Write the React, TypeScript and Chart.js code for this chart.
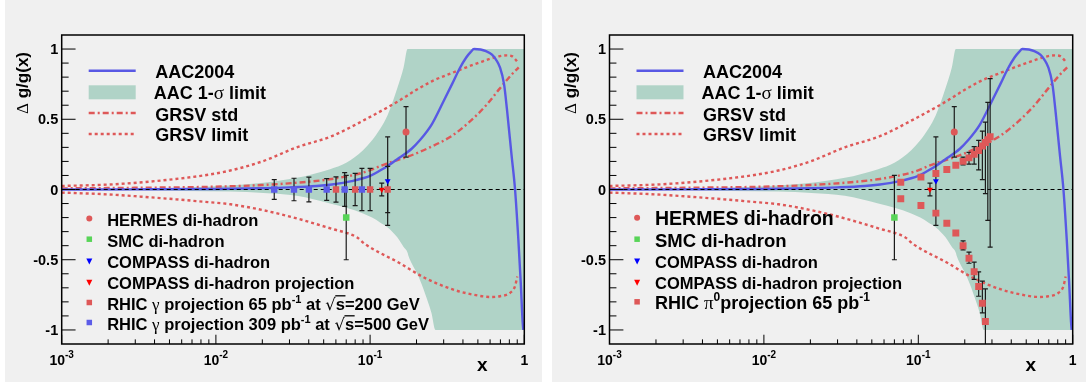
import { useEffect, useRef } from "react";
import { Chart, registerables } from "chart.js";

Chart.register(...registerables);

// ---- axis ranges and tick labels ----
const X_MIN = 0.001;
const X_MAX = 1;
const Y_MIN = -1.1;
const Y_MAX = 1.1;
const xDecades = [0.001, 0.01, 0.1, 1];
const xDecadeExp = ["-3", "-2", "-1", ""];
const xDecadeBase = ["10", "10", "10", "1"];
const yMajorTicks = [-1, -0.5, 0, 0.5, 1];
const yMajorLabels = ["-1", "-0.5", "0", "0.5", "1"];

// ---- AAC2004 central curve ----
const aacX = [0.001, 0.003, 0.01, 0.02, 0.03, 0.045, 0.0565, 0.076, 0.1, 0.116, 0.13, 0.15, 0.186, 0.21, 0.25, 0.3, 0.34, 0.38, 0.42, 0.45, 0.472, 0.52, 0.564, 0.617, 0.655, 0.695, 0.739, 0.772, 0.828, 0.871, 0.915, 0.948, 0.975, 0.985];
const aacY = [0.0, 0.001, 0.004, 0.009, 0.015, 0.025, 0.036, 0.06, 0.097, 0.135, 0.168, 0.215, 0.29, 0.35, 0.46, 0.63, 0.75, 0.86, 0.94, 0.98, 1.0, 0.997, 0.985, 0.96, 0.925, 0.87, 0.75, 0.57, 0.237, 0.0, -0.356, -0.66, -0.94, -1.0];

// ---- AAC 1-sigma band ----
const bandX = [0.001, 0.003, 0.006, 0.0124, 0.0204, 0.0334, 0.055, 0.07, 0.09, 0.103, 0.116, 0.13, 0.15, 0.165, 0.175, 0.177, 0.206, 0.227, 0.25, 0.265, 1.0];
const bandHi = [0.003, 0.006, 0.012, 0.028, 0.048, 0.083, 0.145, 0.19, 0.28, 0.35, 0.43, 0.53, 0.72, 0.87, 1.0, 1.0, 1.0, 1.0, 1.0, 1.0, 1.0];
const bandLo = [-0.003, -0.006, -0.01, -0.015, -0.025, -0.045, -0.1, -0.13, -0.17, -0.2, -0.235, -0.27, -0.34, -0.41, -0.45, -0.47, -0.62, -0.74, -0.88, -1.0, -1.0];

// ---- GRSV curves ----
const grsvStdX = [0.001, 0.003, 0.01, 0.02, 0.035, 0.0565, 0.093, 0.128, 0.177, 0.244, 0.337, 0.45, 0.566, 0.695, 0.815, 0.92];
const grsvStdY = [0.008, 0.012, 0.02, 0.032, 0.05, 0.075, 0.125, 0.185, 0.235, 0.3, 0.38, 0.49, 0.6, 0.72, 0.81, 0.87];
const grsvHiX = [0.001, 0.002, 0.0032, 0.0055, 0.0089, 0.0124, 0.02, 0.0334, 0.0565, 0.09, 0.153, 0.2, 0.251, 0.34, 0.5, 0.695, 0.77, 0.83, 0.87, 0.9];
const grsvHiY = [0.025, 0.035, 0.05, 0.075, 0.105, 0.135, 0.2, 0.3, 0.38, 0.49, 0.63, 0.71, 0.77, 0.83, 0.9, 0.95, 0.955, 0.95, 0.93, 0.91];
const grsvLoX = [0.001, 0.002, 0.0032, 0.0055, 0.0089, 0.0124, 0.025, 0.0565, 0.082, 0.093, 0.153, 0.227, 0.34, 0.5, 0.6, 0.695, 0.81, 0.87, 0.9];
const grsvLoY = [-0.022, -0.035, -0.05, -0.07, -0.09, -0.105, -0.17, -0.28, -0.34, -0.39, -0.52, -0.63, -0.71, -0.755, -0.765, -0.76, -0.735, -0.69, -0.62];

// ---- measurements ----
const hermesX = [0.171];
const hermesY = [0.41];
const hermesErr = [0.18];
const smcX = [0.07];
const smcY = [-0.2];
const smcErr = [0.3];
const compassX = [0.13];
const compassY = [0.06];
const compassErr = [0.315];
const compassProjX = [0.119];
const compassProjY = [0.0];
const compassProjErr = [0.045];

// RHIC direct photon projections
const rhic200X = [0.0601, 0.08, 0.1, 0.13];
const rhic200Y = [0, 0, 0, 0];
const rhic200Err = [0.09, 0.115, 0.15, 0.165];
const rhic500X = [0.0239, 0.0321, 0.0401, 0.0523, 0.0684, 0.0885];
const rhic500Y = [0, 0, 0, 0, 0, 0];
const rhic500Err = [0.07, 0.08, 0.088, 0.078, 0.12, 0.15];

// RHIC pi0 projection, two Delta-g scenarios
const pi0X = [0.077, 0.104, 0.13, 0.153, 0.175, 0.195, 0.213, 0.23, 0.246, 0.26, 0.272, 0.282, 0.292];
const pi0Pos = [0.052, 0.088, 0.114, 0.142, 0.173, 0.2, 0.225, 0.25, 0.278, 0.31, 0.335, 0.355, 0.375];
const pi0Neg = [-0.066, -0.114, -0.168, -0.24, -0.31, -0.4, -0.49, -0.586, -0.69, -0.81, -0.94, null, null];
const pi0PosErrLo = [null, null, null, null, null, 0.175, 0.18, 0.18, 0.14, 0.07, -0.03, -0.22, -0.41];
const pi0PosErrHi = [null, null, null, null, null, 0.23, 0.265, 0.305, 0.35, 0.415, 0.48, 0.62, 0.79];
const pi0NegErrLo = [null, null, null, null, null, -0.43, -0.525, -0.64, -0.76, -0.878, -1.2, null, null];
const pi0NegErrHi = [null, null, null, null, null, -0.366, -0.446, -0.517, -0.586, -0.653, -0.707, null, null];

// ---- styling ----
const BG = "rgb(240,240,240)";
const TEAL = "rgb(176,211,199)";
const RED = "rgb(222,88,88)";
const BLUE_LINE = "rgb(88,88,228)";
const BLUE_SQ = "rgb(92,92,232)";
const GREEN = "rgb(88,212,88)";
const PURE_BLUE = "rgb(0,0,255)";
const PURE_RED = "rgb(255,0,0)";
const SANS = '"Liberation Sans", Arial, Helvetica, sans-serif';
const GREEK = '"Liberation Serif", "DejaVu Serif", serif';
const DASH_DOT = [6, 3, 2, 3];
const DOTTED = [3, 3];

type Part = { t: string; size: number; bold?: boolean; greek?: boolean; rise?: number; bar?: boolean; sym?: boolean };

function fontOf(p: Part) {
  if (p.greek) return `${p.size}px ${GREEK}`;
  if (p.sym) return `${p.size}px "DejaVu Sans", ${SANS}`;
  return `${p.bold === false ? "" : "bold "}${p.size}px ${SANS}`;
}

function partsWidth(ctx: CanvasRenderingContext2D, parts: Part[]) {
  let w = 0;
  for (const p of parts) {
    ctx.font = fontOf(p);
    w += ctx.measureText(p.t).width;
  }
  return w;
}

function drawParts(ctx: CanvasRenderingContext2D, x: number, y: number, parts: Part[]) {
  let cx = x;
  for (const p of parts) {
    ctx.font = fontOf(p);
    const w = ctx.measureText(p.t).width;
    ctx.fillText(p.t, cx, y - (p.rise || 0));
    if (p.bar) {
      ctx.save();
      ctx.lineWidth = 1.3;
      ctx.strokeStyle = "#000";
      ctx.beginPath();
      const by = y - p.size * 0.86;
      ctx.moveTo(cx - 0.5, by);
      ctx.lineTo(cx + w + 0.5, by);
      ctx.stroke();
      ctx.restore();
    }
    cx += w;
  }
  return cx;
}

type MarkerKind = "rect" | "circle" | "triDown";

function drawMarker(ctx: CanvasRenderingContext2D, kind: MarkerKind, x: number, y: number, s: number, color: string) {
  ctx.fillStyle = color;
  ctx.beginPath();
  if (kind === "rect") {
    ctx.rect(x - s / 2, y - s / 2, s, s);
  } else if (kind === "circle") {
    ctx.arc(x, y, s / 2, 0, Math.PI * 2);
  } else {
    ctx.moveTo(x - s / 2, y - s / 3);
    ctx.lineTo(x + s / 2, y - s / 3);
    ctx.lineTo(x, y + (s * 2) / 3);
    ctx.closePath();
  }
  ctx.fill();
}

type LegendRow = { kind: MarkerKind; color: string; y: number; parts: Part[] };
type ErrBar = { x: number; lo: number; hi: number };

const B = (t: string, size: number): Part => ({ t, size, bold: true });

function symErrors(xs: number[], ys: number[], es: number[]): ErrBar[] {
  return xs.map((x, i) => ({ x, lo: ys[i] - es[i], hi: ys[i] + es[i] }));
}

function intervalErrors(xs: number[], lo: (number | null)[], hi: (number | null)[]): ErrBar[] {
  const out: ErrBar[] = [];
  xs.forEach((x, i) => {
    const a = lo[i];
    const b = hi[i];
    if (a !== null && b !== null) out.push({ x, lo: a, hi: b });
  });
  return out;
}

function pts(xs: number[], ys: (number | null)[]) {
  const out: { x: number; y: number }[] = [];
  xs.forEach((x, i) => {
    const y = ys[i];
    if (y !== null) out.push({ x, y });
  });
  return out;
}

function lineSet(label: string, xs: number[], ys: number[], extra: any) {
  return {
    type: "line" as const,
    label,
    data: pts(xs, ys),
    pointRadius: 0,
    borderWidth: 2.4,
    fill: false,
    tension: 0,
    cubicInterpolationMode: "monotone" as const,
    ...extra,
  };
}

function markerSet(label: string, xs: number[], ys: (number | null)[], style: string, radius: number, color: string, order: number, rotation = 0) {
  return {
    type: "scatter" as const,
    label,
    data: pts(xs, ys),
    pointStyle: style,
    pointRadius: radius,
    pointRotation: rotation,
    pointBackgroundColor: color,
    pointBorderColor: color,
    pointBorderWidth: 0,
    showLine: false,
    order,
  };
}

const commonMarkers = () => [
  markerSet("SMC di-hadron", smcX, smcY, "rect", 4.6, GREEN, 4),
  markerSet("HERMES di-hadron", hermesX, hermesY, "circle", 3.5, RED, 3),
  markerSet("COMPASS di-hadron projection", compassProjX, compassProjY, "triangle", 3.4, PURE_RED, 2, 180),
  markerSet("COMPASS di-hadron", compassX, compassY, "triangle", 3.4, PURE_BLUE, 1, 180),
];

const commonBars = (): ErrBar[] => [
  ...symErrors(smcX, smcY, smcErr),
  ...symErrors(hermesX, hermesY, hermesErr),
  ...symErrors(compassProjX, compassProjY, compassProjErr),
  ...symErrors(compassX, compassY, compassErr),
];

type Panel = {
  padLeft: number;
  padRight: number;
  markers: any[];
  bars: ErrBar[];
  legend: LegendRow[];
};

const LEFT_PANEL: Panel = {
  padLeft: 56.7,
  padRight: 17.7,
  markers: [
    markerSet("RHIC 500", rhic500X, rhic500Y, "rect", 4.5, BLUE_SQ, 6),
    markerSet("RHIC 200", rhic200X, rhic200Y, "rect", 4.5, RED, 5),
    ...commonMarkers(),
  ],
  bars: [...symErrors(rhic500X, rhic500Y, rhic500Err), ...symErrors(rhic200X, rhic200Y, rhic200Err), ...commonBars()],
  legend: [
    { kind: "circle", color: RED, y: 220, parts: [B("HERMES di-hadron", 16.5)] },
    { kind: "rect", color: GREEN, y: 240.7, parts: [B("SMC di-hadron", 16.5)] },
    { kind: "triDown", color: PURE_BLUE, y: 262, parts: [B("COMPASS di-hadron", 16.5)] },
    { kind: "triDown", color: PURE_RED, y: 283.3, parts: [B("COMPASS di-hadron projection", 16.5)] },
    {
      kind: "rect", color: RED, y: 304,
      parts: [B("RHIC ", 16.5), { t: "γ", size: 17, greek: true }, B(" projection 65 pb", 16.5), { t: "-1", size: 11, bold: true, rise: 7 }, B(" at ", 16.5), { t: "√", size: 16.5, sym: true }, { t: "s", size: 16.5, bold: true, bar: true }, B("=200 GeV", 16.5)],
    },
    {
      kind: "rect", color: BLUE_SQ, y: 324,
      parts: [B("RHIC ", 16.5), { t: "γ", size: 17, greek: true }, B(" projection 309 pb", 16.5), { t: "-1", size: 11, bold: true, rise: 7 }, B(" at ", 16.5), { t: "√", size: 16.5, sym: true }, { t: "s", size: 16.5, bold: true, bar: true }, B("=500 GeV", 16.5)],
    },
  ],
};

const RIGHT_PANEL: Panel = {
  padLeft: 57.5,
  padRight: 13.3,
  markers: [
    markerSet("RHIC pi0 neg", pi0X, pi0Neg, "rect", 4.9, RED, 7),
    markerSet("RHIC pi0 pos", pi0X, pi0Pos, "rect", 4.9, RED, 6),
    ...commonMarkers(),
  ],
  bars: [...intervalErrors(pi0X, pi0PosErrLo, pi0PosErrHi), ...intervalErrors(pi0X, pi0NegErrLo, pi0NegErrHi), ...commonBars()],
  legend: [
    { kind: "circle", color: RED, y: 219.3, parts: [B("HERMES di-hadron", 19.5)] },
    { kind: "rect", color: GREEN, y: 240.7, parts: [B("SMC di-hadron", 18.5)] },
    { kind: "triDown", color: PURE_BLUE, y: 262, parts: [B("COMPASS di-hadron", 16.5)] },
    { kind: "triDown", color: PURE_RED, y: 283.3, parts: [B("COMPASS di-hadron projection", 16.5)] },
    {
      kind: "rect", color: RED, y: 303.3,
      parts: [B("RHIC ", 18), { t: "π", size: 19, greek: true }, { t: "0", size: 12, bold: true, rise: 8 }, B("projection 65 pb", 18), { t: "-1", size: 12, bold: true, rise: 8 }],
    },
  ],
};

function makePanel(canvas: HTMLCanvasElement, panel: Panel) {
  const decor = {
    id: "rootFrame",
    beforeDraw(chart: any) {
      const { ctx, width, height } = chart;
      ctx.save();
      ctx.fillStyle = BG;
      ctx.fillRect(0, 0, width, height);
      ctx.restore();
    },
    afterDatasetDraw(chart: any, args: any) {
      if (chart.data.datasets[args.index].label !== "AAC2004") return;
      const { ctx, chartArea: a, scales } = chart;
      const xs = scales.x;
      const ys = scales.y;
      ctx.save();
      ctx.beginPath();
      ctx.rect(a.left, a.top, a.right - a.left, a.bottom - a.top);
      ctx.clip();
      // zero reference line
      const y0 = ys.getPixelForValue(0);
      ctx.strokeStyle = "#000";
      ctx.lineWidth = 1;
      ctx.setLineDash([4, 3]);
      ctx.beginPath();
      ctx.moveTo(a.left, y0);
      ctx.lineTo(a.right, y0);
      ctx.stroke();
      ctx.setLineDash([]);
      // error bars
      ctx.strokeStyle = "#1a1a1a";
      ctx.lineWidth = 1.2;
      for (const b of panel.bars) {
        const px = xs.getPixelForValue(b.x);
        const pTop = ys.getPixelForValue(b.hi);
        const pBot = ys.getPixelForValue(b.lo);
        ctx.beginPath();
        ctx.moveTo(px, pTop);
        ctx.lineTo(px, pBot);
        ctx.moveTo(px - 2.5, pTop);
        ctx.lineTo(px + 2.5, pTop);
        ctx.moveTo(px - 2.5, pBot);
        ctx.lineTo(px + 2.5, pBot);
        ctx.stroke();
      }
      ctx.restore();
    },
    afterDraw(chart: any) {
      const { ctx, chartArea: a, scales } = chart;
      const xs = scales.x;
      const ys = scales.y;
      const w = a.right - a.left;
      const h = a.bottom - a.top;
      ctx.save();
      ctx.fillStyle = "#000";
      ctx.strokeStyle = "#000";

      // frame
      ctx.lineWidth = 1.5;
      ctx.strokeRect(a.left, a.top, w, h);

      // y ticks
      ctx.lineWidth = 1;
      ctx.beginPath();
      for (let k = -10; k <= 10; k++) {
        const py = ys.getPixelForValue(k / 10);
        const len = k % 5 === 0 ? 0.03 * w : 0.015 * w;
        ctx.moveTo(a.left, py);
        ctx.lineTo(a.left + len, py);
      }
      // x ticks
      xDecades.forEach((d) => {
        const px = xs.getPixelForValue(d);
        ctx.moveTo(px, a.bottom);
        ctx.lineTo(px, a.bottom - 0.03 * h);
        if (d < 1) {
          for (let m = 2; m <= 9; m++) {
            const pm = xs.getPixelForValue(m * d);
            ctx.moveTo(pm, a.bottom);
            ctx.lineTo(pm, a.bottom - 0.015 * h);
          }
        }
      });
      ctx.stroke();

      // y tick labels
      ctx.textBaseline = "alphabetic";
      ctx.font = `bold 14.5px ${SANS}`;
      ctx.textAlign = "right";
      yMajorTicks.forEach((v, i) => {
        const py = ys.getPixelForValue(v);
        ctx.fillText(yMajorLabels[i], a.left - 3.5, py + 5.2);
      });

      // x tick labels
      ctx.textAlign = "left";
      xDecades.forEach((d, i) => {
        const px = xs.getPixelForValue(d);
        const parts: Part[] = [{ t: xDecadeBase[i], size: 14, bold: true }];
        if (xDecadeExp[i]) parts.push({ t: xDecadeExp[i], size: 10, bold: true, rise: 7 });
        const tw = partsWidth(ctx, parts);
        drawParts(ctx, px - tw / 2, a.bottom + 20.5, parts);
      });

      // axis titles
      ctx.font = `bold 19px ${SANS}`;
      ctx.textAlign = "center";
      ctx.fillText("x", a.right - 42, a.bottom + 27);

      const yTitle: Part[] = [{ t: "Δ", size: 17, greek: true }, B(" g/g(x)", 17)];
      ctx.save();
      ctx.translate(a.left - 33.5, 52);
      ctx.rotate(-Math.PI / 2);
      ctx.textAlign = "left";
      const tw = partsWidth(ctx, yTitle);
      drawParts(ctx, -tw, 0, yTitle);
      ctx.restore();

      // curve legend
      const lx0 = a.left + 27;
      const lx1 = a.left + 74;
      const tx = a.left + 93.5;
      ctx.textAlign = "left";
      ctx.lineWidth = 2.4;
      ctx.strokeStyle = BLUE_LINE;
      ctx.beginPath();
      ctx.moveTo(lx0, 70.7);
      ctx.lineTo(lx1, 70.7);
      ctx.stroke();
      ctx.fillStyle = TEAL;
      ctx.fillRect(lx0, 85.3, lx1 - lx0, 14);
      ctx.strokeStyle = RED;
      ctx.setLineDash(DASH_DOT);
      ctx.beginPath();
      ctx.moveTo(lx0, 113);
      ctx.lineTo(lx1, 113);
      ctx.stroke();
      ctx.setLineDash(DOTTED);
      ctx.beginPath();
      ctx.moveTo(lx0, 134);
      ctx.lineTo(lx1, 134);
      ctx.stroke();
      ctx.setLineDash([]);
      ctx.fillStyle = "#000";
      drawParts(ctx, tx, 78, [B("AAC2004", 18)]);
      drawParts(ctx, tx - 1.5, 98.8, [B("AAC 1-", 18), { t: "σ", size: 19, greek: true }, B(" limit", 18)]);
      drawParts(ctx, tx, 120.5, [B("GRSV std", 18)]);
      drawParts(ctx, tx, 141.2, [B("GRSV limit", 18)]);

      // data legend
      for (const row of panel.legend) {
        const s = row.kind === "circle" ? 6 : row.kind === "rect" ? 5.5 : 6;
        drawMarker(ctx, row.kind, a.left + 27.6, row.y - 1.5, s, row.color);
        ctx.fillStyle = "#000";
        drawParts(ctx, a.left + 45.5, row.y + 6, row.parts);
      }
      ctx.restore();
    },
  };

  const datasets: any[] = [
    lineSet("band-hi", bandX, bandHi, { fill: "+1", backgroundColor: TEAL, borderWidth: 0, borderColor: "rgba(0,0,0,0)", order: 30 }),
    lineSet("band-lo", bandX, bandLo, { borderWidth: 0, borderColor: "rgba(0,0,0,0)", order: 29 }),
    lineSet("GRSV limit lo", grsvLoX, grsvLoY, { borderColor: RED, borderDash: DOTTED, order: 13 }),
    lineSet("GRSV limit hi", grsvHiX, grsvHiY, { borderColor: RED, borderDash: DOTTED, order: 12 }),
    lineSet("GRSV std", grsvStdX, grsvStdY, { borderColor: RED, borderDash: DASH_DOT, order: 11 }),
    lineSet("AAC2004", aacX, aacY, { borderColor: BLUE_LINE, order: 10 }),
    ...panel.markers,
  ];

  return new Chart(canvas, {
    type: "scatter",
    data: { datasets },
    options: {
      responsive: false,
      devicePixelRatio: 1,
      animation: false,
      events: [],
      layout: { padding: { left: panel.padLeft, right: panel.padRight, top: 35, bottom: 38 } },
      scales: {
        x: { type: "logarithmic", min: X_MIN, max: X_MAX, display: false },
        y: { type: "linear", min: Y_MIN, max: Y_MAX, display: false },
      },
      plugins: { legend: { display: false }, tooltip: { enabled: false } },
    },
    plugins: [decor],
  } as any);
}

export default function App() {
  const leftRef = useRef<HTMLCanvasElement>(null);
  const rightRef = useRef<HTMLCanvasElement>(null);
  useEffect(() => {
    const a = makePanel(leftRef.current!, LEFT_PANEL);
    const b = makePanel(rightRef.current!, RIGHT_PANEL);
    return () => {
      a.destroy();
      b.destroy();
    };
  }, []);
  return (
    <div style={{ position: "fixed", left: 0, top: 0, width: 1086, height: 383, background: "#fff" }}>
      <canvas ref={leftRef} width={537} height={382} style={{ position: "absolute", left: 5, top: 0, width: 537, height: 382 }} />
      <canvas ref={rightRef} width={534} height={382} style={{ position: "absolute", left: 552, top: 0, width: 534, height: 382 }} />
    </div>
  );
}
